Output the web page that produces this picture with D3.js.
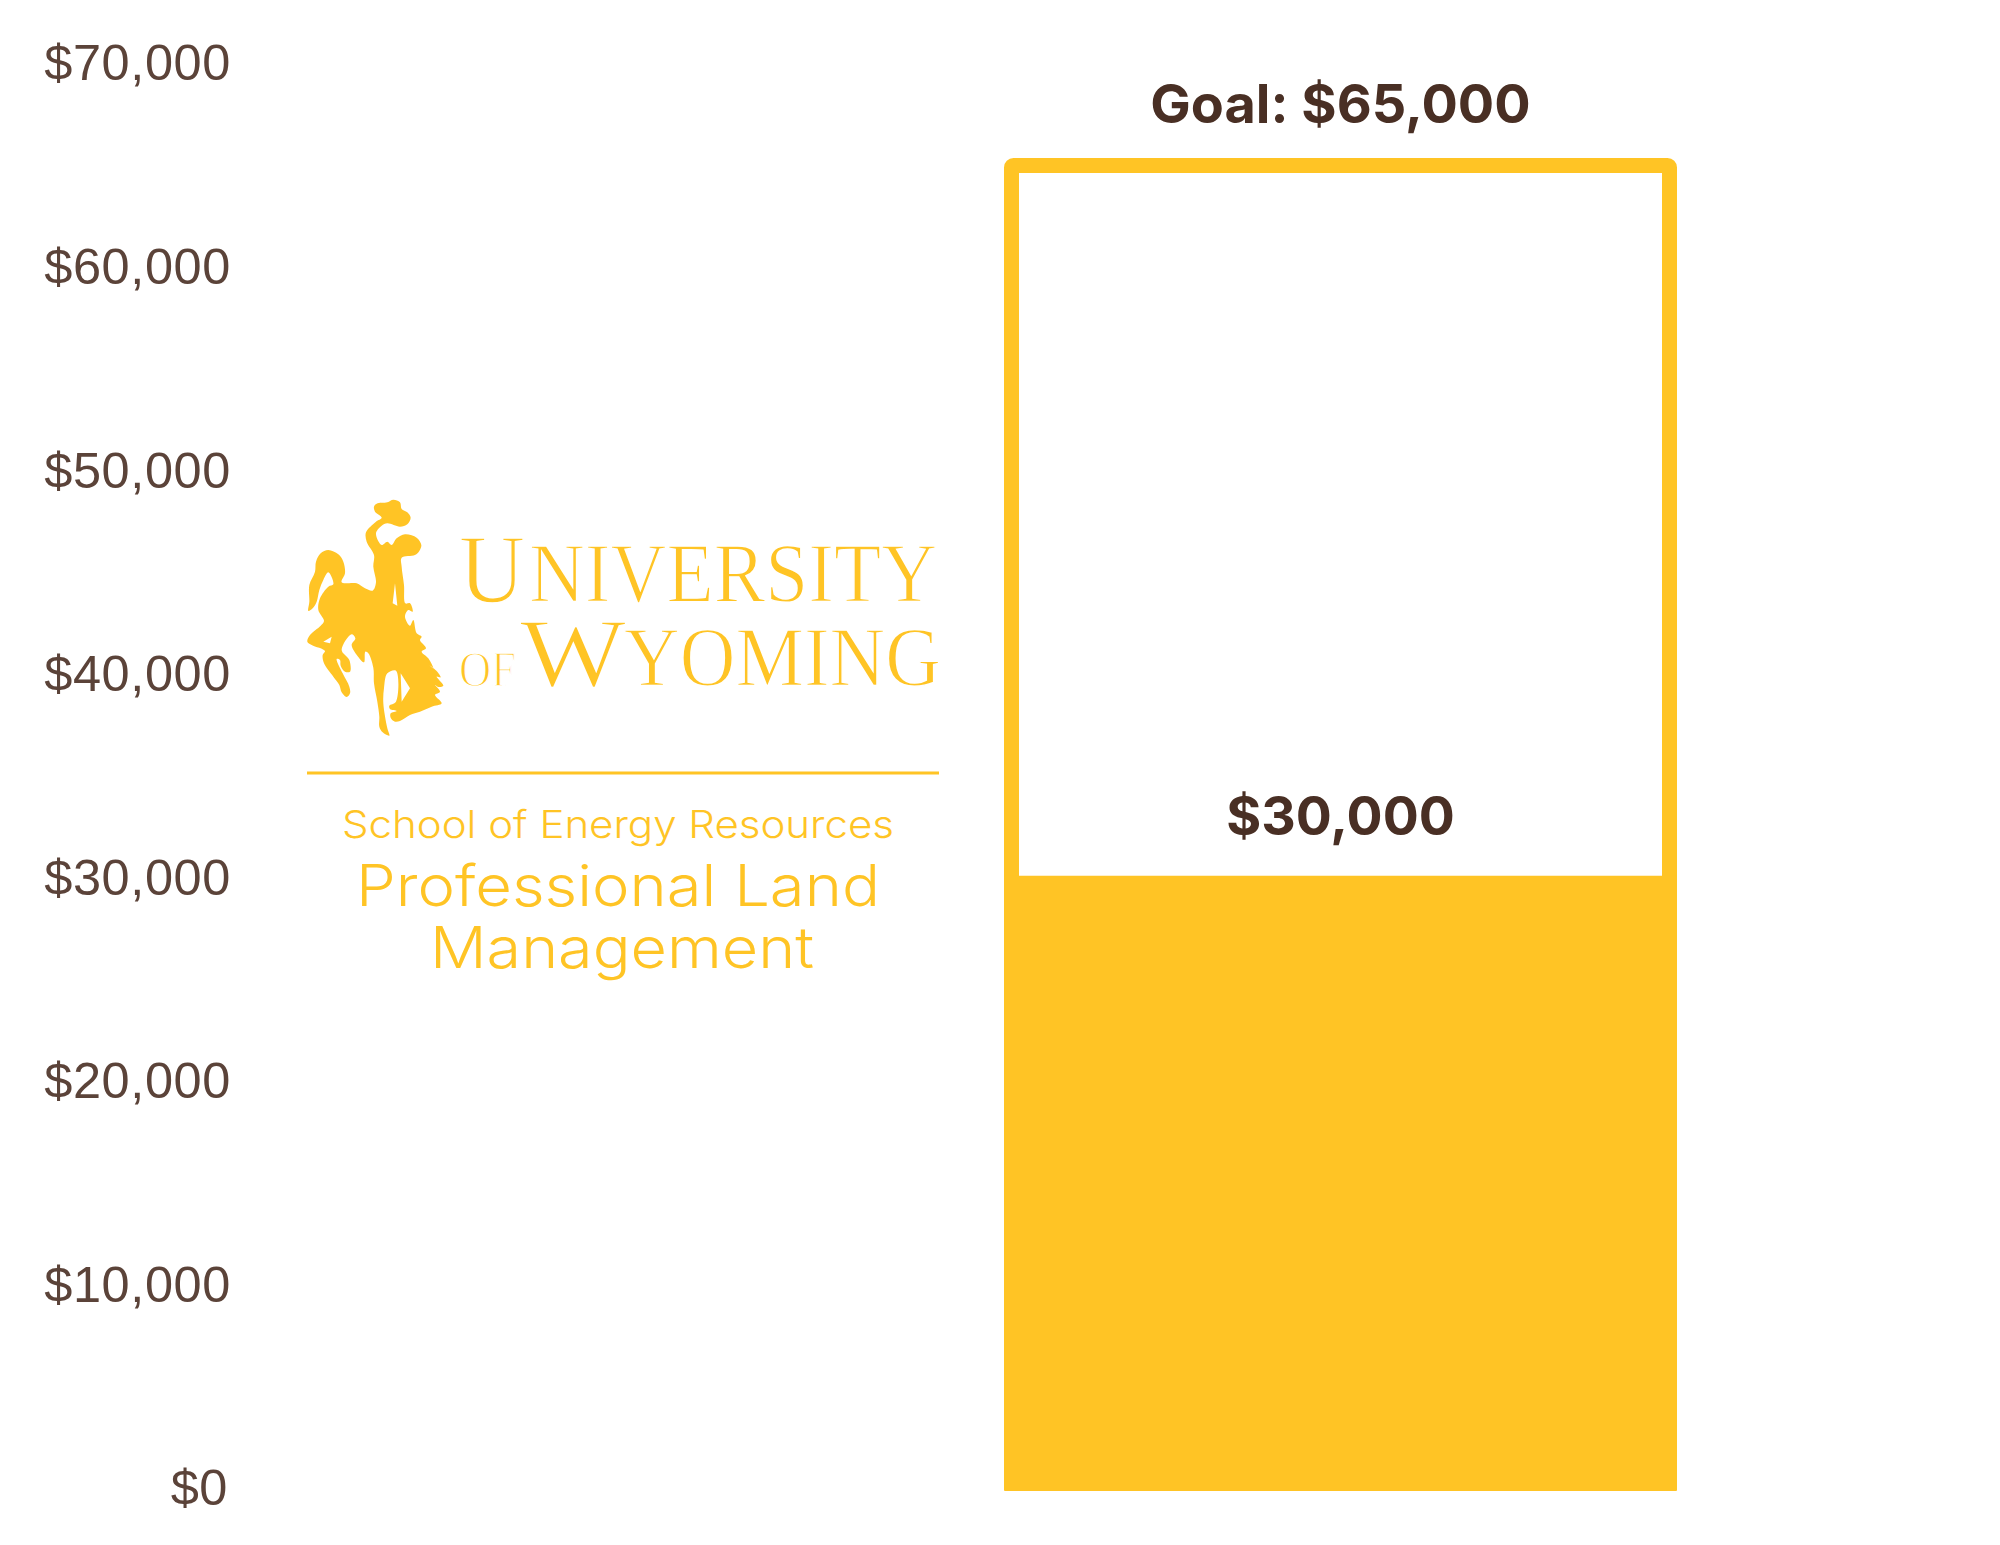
<!DOCTYPE html>
<html><head><meta charset="utf-8">
<script src="https://cdn.jsdelivr.net/npm/d3@7/dist/d3.min.js"></script>
<style>html,body{margin:0;padding:0;background:#fff}svg{display:block}</style>
</head><body><div id="c"></div>
<script>
const tickValues = [0,10000,20000,30000,40000,50000,60000,70000];
const goalValue = 65000;
const raisedValue = 30000;
const categories = ["Fundraising"];
const goalLabel = "Goal: $65,000";
const raisedLabel = "$30,000";
const gold = "#ffc425", brown = "#492f24", tickBrown = "#5b4339";

const W=2000,H=1545;
const svg=d3.select("#c").append("svg").attr("width",W).attr("height",H).attr("viewBox",`0 0 ${W} ${H}`);
const y=d3.scaleLinear().domain([0,65000]).range([1491,158]);
const yAxisScale=d3.scaleLinear().domain([0,70000]).range([1487,62]);
const x=d3.scaleBand().domain(categories).range([1004,1677]);
const fmt=d3.format("$,");

// axis
const axis=d3.axisLeft(yAxisScale).tickValues(tickValues).tickFormat(fmt).tickSize(0).tickPadding(0);
const gA=svg.append("g").attr("transform","translate(231,0)").call(axis);
gA.select(".domain").remove();
gA.selectAll("text").attr("fill",tickBrown).attr("font-family","'Liberation Sans',Arial,sans-serif").attr("font-size",50.5).attr("letter-spacing",0.6).attr("dy","0.355em").attr("dx",d=>d===0?-3:0);

// bar
const sw=15;
svg.selectAll("rect.goal").data(categories).join("rect").attr("class","goal")
 .attr("x",d=>x(d)+sw/2).attr("width",x.bandwidth()-sw)
 .attr("y",y(goalValue)+sw/2).attr("height",y(0)-y(goalValue)-sw)
 .attr("fill","#fff").attr("stroke",gold).attr("stroke-width",sw).attr("rx",2);
svg.selectAll("rect.raised").data(categories).join("rect").attr("class","raised")
 .attr("x",d=>x(d)).attr("width",x.bandwidth())
 .attr("y",y(raisedValue)).attr("height",y(0)-y(raisedValue)).attr("fill",gold).attr("rx",1);

const cx=x(categories[0])+x.bandwidth()/2;
function bold(t,yy,size){svg.append("text").attr("x",cx).attr("y",yy).attr("text-anchor","middle")
 .attr("font-family","Inter,sans-serif").attr("font-weight",700).attr("font-size",size).attr("fill",brown).text(t);}
bold(goalLabel,y(goalValue)-35,54);
bold(raisedLabel,y(raisedValue)-41,53.5);

// logo
const horse=[[222,35],[230,26],[262,22],[280,14],[300,22],[305,42],[322,52],[332,68],[322,88],[300,95],[262,85],[245,92],[228,115],[245,150],[262,140],[275,150],[290,130],[315,118],[350,128],[364,150],[358,168],[345,180],[305,188],[305,215],[312,270],[316,325],[330,325],[338,350],[325,345],[315,365],[330,392],[340,375],[350,415],[365,425],[360,435],[378,460],[365,470],[385,490],[400,520],[388,510],[412,530],[422,547],[410,545],[430,572],[416,576],[405,570],[420,590],[405,600],[425,625],[395,635],[360,650],[330,660],[300,678],[285,680],[272,668],[272,655],[290,648],[270,642],[268,632],[288,620],[288,527],[262,535],[252,580],[250,625],[262,700],[268,722],[248,712],[238,695],[238,665],[232,620],[222,565],[220,518],[205,475],[196,470],[192,502],[172,482],[155,450],[166,430],[155,418],[125,465],[148,495],[150,530],[135,530],[122,512],[120,495],[110,492],[128,535],[148,575],[150,595],[140,606],[125,592],[118,570],[100,545],[72,505],[68,480],[75,468],[35,450],[22,440],[30,420],[62,392],[72,378],[55,345],[60,310],[85,275],[100,268],[85,232],[70,255],[58,285],[50,320],[38,340],[25,348],[28,320],[28,270],[45,230],[48,200],[62,175],[85,165],[115,178],[130,200],[135,235],[125,262],[170,265],[195,280],[218,287],[228,262],[220,215],[222,180],[200,140],[198,112],[228,80],[245,68],[225,50]];
const holes=[[[302,535],[330,580],[305,620]],[[70,440],[95,425],[90,445]],[[285,265],[278,325],[292,332]]];
const g=svg.append("g").attr("transform","translate(300,495) scale(0.3333)");
const ln=d3.line().curve(d3.curveCatmullRomClosed.alpha(0.5));
const d=ln(horse)+holes.map(h=>d3.line().curve(d3.curveLinearClosed)(h)).join("");
g.append("path").attr("d",d).attr("fill",gold).attr("fill-rule","evenodd");

const serif="'Liberation Serif','Times New Roman',serif";
function lt(t,xx,yy,size,len,font,weight){
 const s=svg.append("text").attr("x",xx).attr("y",yy).attr("fill",gold).attr("font-family",font).attr("font-size",size).attr("font-weight",weight||400).text(t);
 if(len)s.attr("textLength",len).attr("lengthAdjust","spacingAndGlyphs");
 return s;
}
const thin=s=>s.attr("stroke","#fff").attr("stroke-width",1.5).attr("paint-order","fill");
thin(lt("U",459,602,98,66,serif));
thin(lt("NIVERSITY",529,602,85,408,serif));
thin(lt("OF",459,686,50,57,serif));
thin(lt("W",520,686,98,106,serif));
thin(lt("YOMING",624,686,85,317,serif));
svg.append("rect").attr("x",307).attr("y",771.5).attr("width",632).attr("height",3).attr("fill",gold);
const sans="Inter,Lato,sans-serif";
lt("School of Energy Resources",342,838,38,552,sans,300);
lt("Professional Land",356,906,57,524,sans,300);
lt("Management",430,968,57,384,sans,300);
</script></body></html>
